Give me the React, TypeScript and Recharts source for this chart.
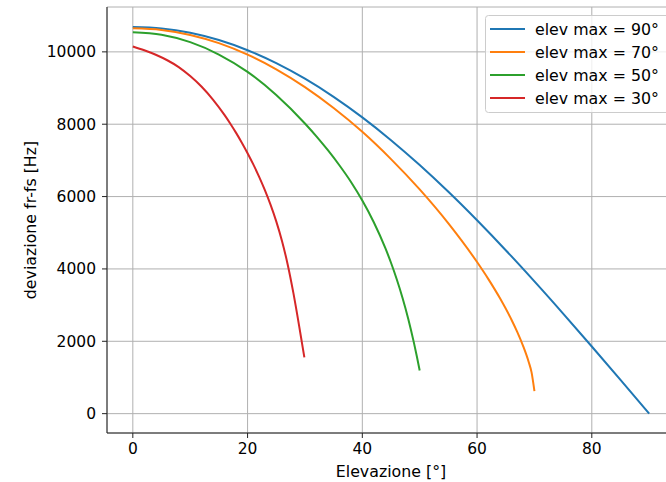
import { LineChart, Line, XAxis, YAxis, CartesianGrid } from "recharts";

// elevation [deg] and frequency deviation [Hz] per max-elevation pass
const elev90 = [0, 5, 10, 15, 20, 25, 30, 35, 40, 45, 50, 55, 60, 65, 70, 75, 80, 85, 90];
const dev90 = [10690, 10649, 10527, 10326, 10045, 9688, 9258, 8757, 8189, 7559, 6872, 6132, 5345, 4518, 3656, 2767, 1856, 932, 0];

const elev70 = [0, 5, 10, 15, 20, 25, 30, 35, 40, 45, 50, 55, 60, 62, 64, 66, 67, 68, 69, 69.5, 70];
const dev70 = [10650, 10605, 10467, 10240, 9923, 9518, 9026, 8448, 7790, 7036, 6198, 5259, 4190, 3711, 3187, 2596, 2259, 1880, 1428, 1140, 620];

const elev50 = [0, 5, 10, 15, 20, 25, 30, 32, 34, 36, 38, 40, 42, 44, 45, 46, 47, 48, 49, 49.5, 50];
const dev50 = [10540, 10473, 10268, 9926, 9446, 8808, 8021, 7666, 7281, 6866, 6411, 5891, 5291, 4581, 4171, 3716, 3206, 2626, 1956, 1586, 1191];

const elev30 = [0, 2, 4, 6, 8, 10, 12, 14, 16, 17, 18, 19, 20, 21, 22, 23, 24, 25, 26, 27, 28, 29, 29.5, 29.9];
const dev30 = [10150, 10045, 9920, 9768, 9580, 9331, 9035, 8675, 8251, 8014, 7761, 7490, 7200, 6889, 6553, 6185, 5778, 5315, 4773, 4118, 3323, 2413, 1936, 1554];

const xTicks = [0, 20, 40, 60, 80];
const yTicks = [0, 2000, 4000, 6000, 8000, 10000];

const seriesNames = ["elev max = 90°", "elev max = 70°", "elev max = 50°", "elev max = 30°"];
const seriesColors = ["#1f77b4", "#ff7f0e", "#2ca02c", "#d62728"];

const toPoints = (xs: number[], ys: number[]) => xs.map((e, i) => ({ e, v: ys[i] }));

const series = [
  toPoints(elev90, dev90),
  toPoints(elev70, dev70),
  toPoints(elev50, dev50),
  toPoints(elev30, dev30),
];

const tickStyle = { fontSize: 15.5, fill: "#000" };

function LegendBox() {
  return (
    <svg width={666} height={482} style={{ position: "absolute", left: 0, top: 0, pointerEvents: "none" }}>
      <rect x={485.5} y={15.5} width={190} height={97} rx={3} fill="#fff" fillOpacity={0.8} stroke="#cccccc" />
      {seriesNames.map((name, i) => (
        <g key={name}>
          <line x1={490} x2={525} y1={29 + 23 * i} y2={29 + 23 * i} stroke={seriesColors[i]} strokeWidth={2} />
          <text x={535} y={34.5 + 23 * i} fontSize={15.8} fill="#000">
            {name}
          </text>
        </g>
      ))}
    </svg>
  );
}

export default function App() {
  return (
    <div
      style={{
        position: "fixed",
        left: 0,
        top: 0,
        width: 666,
        height: 482,
        overflow: "hidden",
        background: "#fff",
        fontFamily: "'DejaVu Sans', sans-serif",
      }}
    >
      <LineChart width={700} height={482} margin={{ top: 7, right: 25, bottom: 0, left: 10 }}>
        <CartesianGrid stroke="#b0b0b0" strokeWidth={1} />
        <XAxis
          dataKey="e"
          type="number"
          domain={[-4.5, 94.5]}
          ticks={xTicks}
          allowDataOverflow
          height={49}
          tick={tickStyle}
          tickSize={5}
          tickMargin={5}
          stroke="#222"
          label={{ value: "Elevazione [°]", position: "insideBottom", offset: 5, fontSize: 15.8, fill: "#000" }}
        />
        <XAxis
          xAxisId="top"
          orientation="top"
          dataKey="e"
          type="number"
          domain={[-4.5, 94.5]}
          height={0}
          tick={false}
          tickLine={false}
          stroke="#222"
        />
        <YAxis
          type="number"
          domain={[-535, 11240]}
          ticks={yTicks}
          allowDataOverflow
          width={97}
          tick={tickStyle}
          tickSize={5}
          tickMargin={6}
          stroke="#222"
          label={{
            value: "deviazione fr-fs [Hz]",
            angle: -90,
            position: "insideLeft",
            offset: 20,
            fontSize: 15.8,
            fill: "#000",
            style: { textAnchor: "middle" },
          }}
        />
        {series.map((pts, i) => (
          <Line
            key={seriesNames[i]}
            data={pts}
            dataKey="v"
            type="monotone"
            stroke={seriesColors[i]}
            strokeWidth={2}
            dot={false}
            isAnimationActive={false}
          />
        ))}
      </LineChart>
      <LegendBox />
    </div>
  );
}
